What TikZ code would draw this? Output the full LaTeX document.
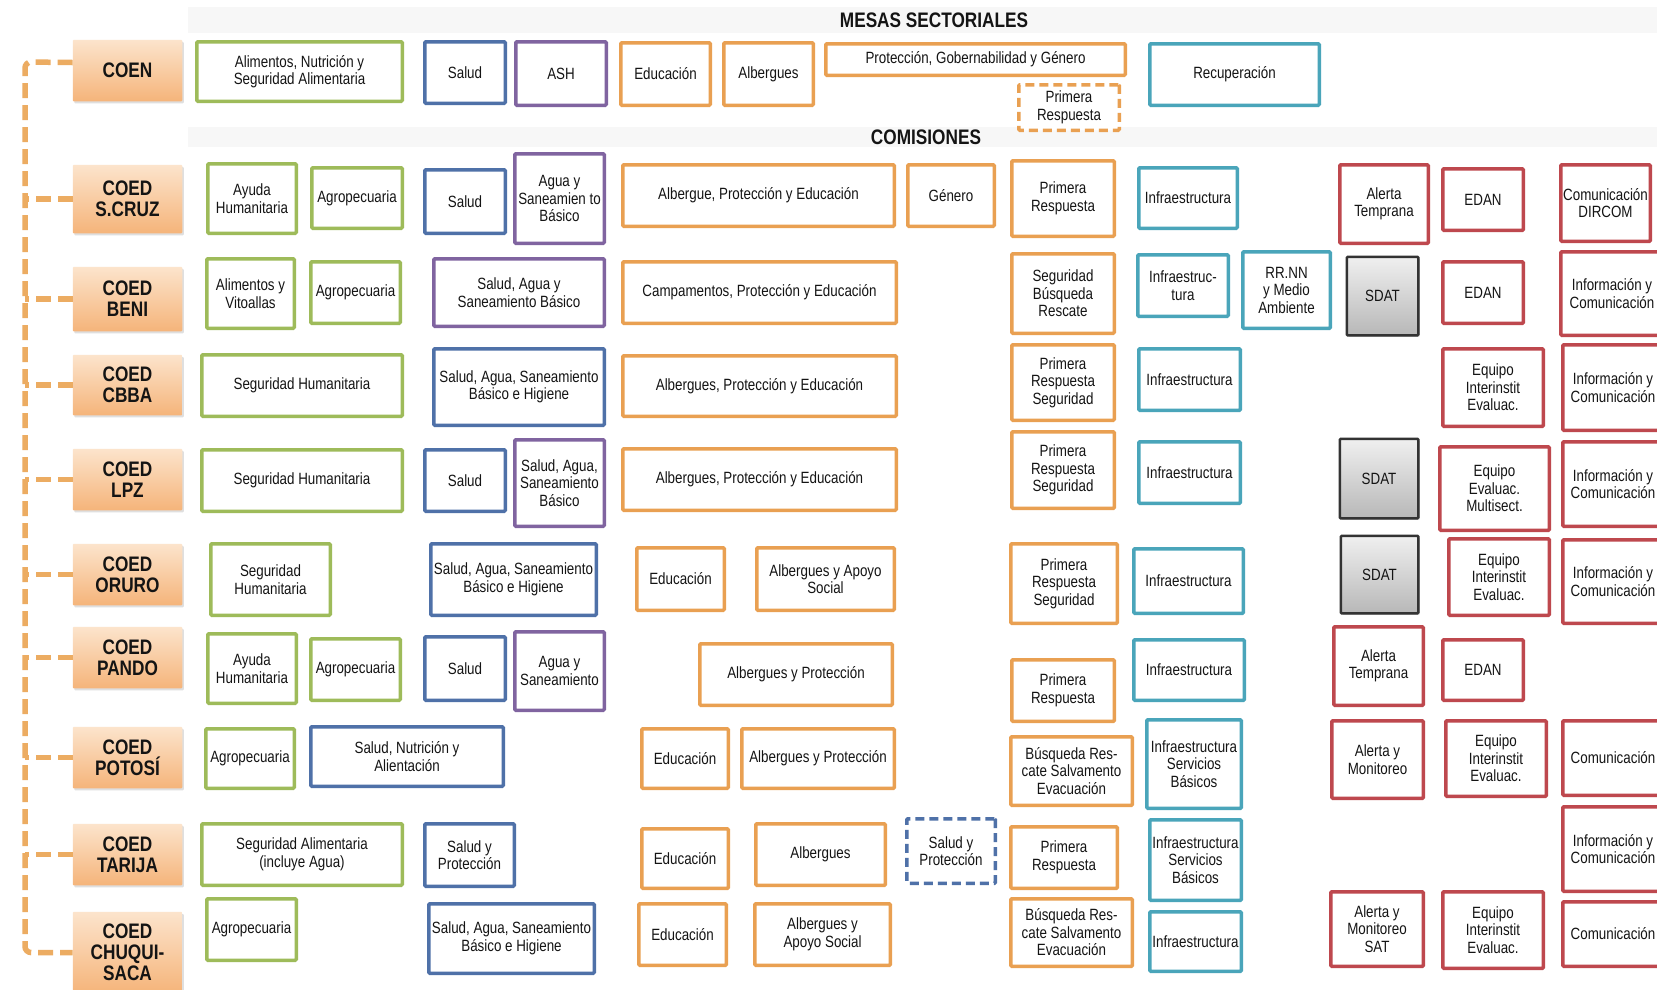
\documentclass[tikz,border=0pt]{standalone}
\usepackage{fontspec}
\setmainfont{Liberation Sans}[FakeStretch=0.82]
\usetikzlibrary{shadows}
\definecolor{cgreen}{RGB}{158,187,90}
\definecolor{cblue}{RGB}{79,113,168}
\definecolor{cpurple}{RGB}{128,100,160}
\definecolor{corange}{RGB}{233,160,82}
\definecolor{cteal}{RGB}{74,165,186}
\definecolor{cred}{RGB}{190,72,78}
\definecolor{cconn}{RGB}{236,172,98}
\definecolor{ctxt}{RGB}{20,20,20}
\tikzset{
  bx/.style={draw, line width=3.5pt, fill=white, align=center, inner sep=1pt, rounded corners=1pt,
    font=\fontsize{16.3}{17.5}\selectfont, text=ctxt},
  boxg/.style={bx, draw=cgreen},
  boxb/.style={bx, draw=cblue},
  boxp/.style={bx, draw=cpurple},
  boxo/.style={bx, draw=corange},
  boxt/.style={bx, draw=cteal},
  boxr/.style={bx, draw=cred},
  boxod/.style={bx, draw=corange, dash pattern=on 9pt off 5pt},
  boxbd/.style={bx, draw=cblue, dash pattern=on 9pt off 5pt},
  boxs/.style={bx, draw=black!80, line width=2.5pt, top color=black!6, bottom color=black!28,
    drop shadow={shadow xshift=1.5pt, shadow yshift=-1.5pt, opacity=0.35}},
  boxc/.style={align=center, inner sep=1pt, top color={rgb,255:red,252;green,228;blue,204},
    bottom color={rgb,255:red,245;green,180;blue,122}, rounded corners=1pt,
    font=\fontsize{21}{21}\selectfont\bfseries, text=ctxt,
    drop shadow={shadow xshift=1.5pt, shadow yshift=-2pt, opacity=0.25}},
  ttl/.style={font=\fontsize{21}{22}\selectfont\bfseries, text=ctxt, inner sep=0pt},
  conn/.style={draw=cconn, line width=5.5pt, dash pattern=on 15pt off 7pt, rounded corners=6pt}
}
\newcommand{\mybox}[7]{\node[#2, minimum width={(#5)-(#3)-3.5}, minimum height={(#6)-(#4)-3.5}] (#1) at ({((#3)+(#5))/2},{((#4)+(#6))/2}) {#7};}
\begin{document}
\begin{tikzpicture}[x=1pt,y=-1pt]
\useasboundingbox (0,0) rectangle (1657,989);
\clip (0,0) rectangle (1657,989);
\fill[white] (0,0) rectangle (1657,989);
\fill[black!3] (188,7) rectangle (1657,33);
\fill[black!3] (188,127) rectangle (1657,147);

\node[ttl] (tmesas) at (934,20) {MESAS SECTORIALES};
\node[ttl] (tcom) at (926,137) {COMISIONES};

% COEN
\mybox{coen}{boxc}{71}{38}{184}{103}{COEN}
\mybox{m1}{boxg}{195}{40}{404}{103}{Alimentos, Nutrición y\\Seguridad Alimentaria}
\mybox{m2}{boxb}{423}{40}{507}{105}{Salud}
\mybox{m3}{boxp}{514}{40}{608}{107}{ASH}
\mybox{m4}{boxo}{619}{41}{712}{107}{Educación}
\mybox{m5}{boxo}{722}{41}{815}{107}{Albergues}
\mybox{m6}{boxo}{824}{42}{1127}{77}{Protección, Gobernabilidad y Género}
\mybox{m7}{boxod}{1017}{83}{1121}{132}{Primera\\Respuesta}
\mybox{m8}{boxt}{1148}{42}{1321}{107}{Recuperación}

% S.CRUZ
\mybox{scz}{boxc}{71}{163}{184}{235}{COED\\S.CRUZ}
\mybox{s1}{boxg}{206}{162}{298}{235}{Ayuda\\Humanitaria}
\mybox{s2}{boxg}{310}{166}{404}{230}{Agropecuaria}
\mybox{s3}{boxb}{423}{168}{507}{235}{Salud}
\mybox{s4}{boxp}{513}{152}{606}{245}{Agua y\\Saneamien to\\Básico}
\mybox{s5}{boxo}{621}{163}{896}{228}{Albergue, Protección y Educación}
\mybox{s6}{boxo}{906}{163}{996}{228}{Género}
\mybox{s7}{boxo}{1010}{159}{1116}{238}{Primera\\Respuesta}
\mybox{s8}{boxt}{1137}{166}{1239}{230}{Infraestructura}
\mybox{s9}{boxr}{1338}{163}{1430}{245}{Alerta\\Temprana}
\mybox{s10}{boxr}{1441}{167}{1525}{232}{EDAN}
\mybox{s11}{boxr}{1559}{163}{1652}{243}{Comunicación\\DIRCOM}

% BENI
\mybox{ben}{boxc}{71}{265}{184}{333}{COED\\BENI}
\mybox{b1}{boxg}{205}{257}{296}{330}{Alimentos y\\Vitoallas}
\mybox{b2}{boxg}{309}{260}{402}{325}{Agropecuaria}
\mybox{b3}{boxp}{432}{257}{606}{328}{Salud, Agua y\\Saneamiento Básico}
\mybox{b4}{boxo}{621}{260}{898}{325}{Campamentos, Protección y Educación}
\mybox{b5}{boxo}{1010}{252}{1116}{335}{Seguridad\\Búsqueda\\Rescate}
\mybox{b6}{boxt}{1136}{253}{1230}{318}{Infraestruc-\\tura}
\mybox{b7}{boxt}{1241}{250}{1332}{330}{RR.NN\\y Medio\\Ambiente}
\mybox{b8}{boxs}{1345}{255}{1420}{337}{SDAT}
\mybox{b9}{boxr}{1441}{260}{1525}{325}{EDAN}
\mybox{b10}{boxr}{1559}{250}{1665}{337}{Información y\\Comunicación}

% CBBA
\mybox{cba}{boxc}{71}{353}{184}{417}{COED\\CBBA}
\mybox{c1}{boxg}{200}{353}{404}{418}{Seguridad Humanitaria}
\mybox{c2}{boxb}{432}{347}{606}{427}{Salud, Agua, Saneamiento\\Básico e Higiene}
\mybox{c3}{boxo}{621}{354}{898}{418}{Albergues, Protección y Educación}
\mybox{c4}{boxo}{1010}{343}{1116}{422}{Primera\\Respuesta\\Seguridad}
\mybox{c5}{boxt}{1137}{347}{1242}{412}{Infraestructura}
\mybox{c6}{boxr}{1441}{347}{1545}{428}{Equipo\\Interinstit\\Evaluac.}
\mybox{c7}{boxr}{1561}{343}{1665}{432}{Información y\\Comunicación}

% LPZ
\mybox{lpz}{boxc}{71}{447}{184}{512}{COED\\LPZ}
\mybox{l1}{boxg}{200}{448}{404}{513}{Seguridad Humanitaria}
\mybox{l2}{boxb}{423}{448}{507}{513}{Salud}
\mybox{l3}{boxp}{513}{438}{606}{528}{Salud, Agua,\\Saneamiento\\Básico}
\mybox{l4}{boxo}{621}{447}{898}{512}{Albergues, Protección y Educación}
\mybox{l5}{boxo}{1010}{430}{1116}{510}{Primera\\Respuesta\\Seguridad}
\mybox{l6}{boxt}{1137}{440}{1242}{505}{Infraestructura}
\mybox{l7}{boxs}{1338}{437}{1420}{520}{SDAT}
\mybox{l8}{boxr}{1438}{445}{1551}{532}{Equipo\\Evaluac.\\Multisect.}
\mybox{l9}{boxr}{1561}{440}{1665}{528}{Información y\\Comunicación}

% ORURO
\mybox{oru}{boxc}{71}{542}{184}{607}{COED\\ORURO}
\mybox{o1}{boxg}{209}{542}{332}{617}{Seguridad\\Humanitaria}
\mybox{o2}{boxb}{429}{542}{598}{617}{Salud, Agua, Saneamiento\\Básico e Higiene}
\mybox{o3}{boxo}{635}{546}{726}{612}{Educación}
\mybox{o4}{boxo}{755}{546}{896}{612}{Albergues y Apoyo\\Social}
\mybox{o5}{boxo}{1009}{542}{1119}{625}{Primera\\Respuesta\\Seguridad}
\mybox{o6}{boxt}{1132}{547}{1245}{615}{Infraestructura}
\mybox{o7}{boxs}{1339}{534}{1420}{615}{SDAT}
\mybox{o8}{boxr}{1447}{537}{1551}{617}{Equipo\\Interinstit\\Evaluac.}
\mybox{o9}{boxr}{1561}{538}{1665}{625}{Información y\\Comunicación}

% PANDO
\mybox{pan}{boxc}{71}{625}{184}{690}{COED\\PANDO}
\mybox{p1}{boxg}{206}{632}{298}{705}{Ayuda\\Humanitaria}
\mybox{p2}{boxg}{309}{637}{402}{702}{Agropecuaria}
\mybox{p3}{boxb}{423}{635}{507}{702}{Salud}
\mybox{p4}{boxp}{513}{630}{606}{712}{Agua y\\Saneamiento}
\mybox{p5}{boxo}{698}{642}{894}{707}{Albergues y Protección}
\mybox{p6}{boxo}{1010}{658}{1116}{723}{Primera\\Respuesta}
\mybox{p7}{boxt}{1132}{638}{1246}{702}{Infraestructura}
\mybox{p8}{boxr}{1332}{625}{1425}{707}{Alerta\\Temprana}
\mybox{p9}{boxr}{1441}{638}{1525}{702}{EDAN}

% POTOSI
\mybox{pot}{boxc}{71}{725}{184}{790}{COED\\POTOSÍ}
\mybox{t1}{boxg}{204}{727}{296}{790}{Agropecuaria}
\mybox{t2}{boxb}{309}{725}{505}{788}{Salud, Nutrición y\\Alientación}
\mybox{t3}{boxo}{640}{727}{730}{790}{Educación}
\mybox{t4}{boxo}{740}{727}{896}{790}{Albergues y Protección}
\mybox{t5}{boxo}{1009}{735}{1134}{807}{Búsqueda Res-\\cate Salvamento\\Evacuación}
\mybox{t6}{boxt}{1145}{718}{1243}{810}{Infraestructura\\Servicios\\Básicos}
\mybox{t7}{boxr}{1330}{719}{1425}{800}{Alerta y\\Monitoreo}
\mybox{t8}{boxr}{1444}{719}{1548}{798}{Equipo\\Interinstit\\Evaluac.}
\mybox{t9}{boxr}{1561}{719}{1665}{797}{Comunicación}

% TARIJA
\mybox{tar}{boxc}{71}{822}{184}{887}{COED\\TARIJA}
\mybox{j1}{boxg}{200}{822}{404}{887}{Seguridad Alimentaria\\(incluye Agua)}
\mybox{j2}{boxb}{423}{822}{516}{888}{Salud y\\Protección}
\mybox{j3}{boxo}{640}{827}{730}{890}{Educación}
\mybox{j4}{boxo}{754}{822}{887}{887}{Albergues}
\mybox{j5}{boxbd}{905}{817}{997}{885}{Salud y\\Protección}
\mybox{j6}{boxo}{1009}{825}{1119}{890}{Primera\\Respuesta}
\mybox{j7}{boxt}{1148}{818}{1243}{902}{Infraestructura\\Servicios\\Básicos}
\mybox{j8}{boxr}{1561}{805}{1665}{893}{Información y\\Comunicación}

% CHUQUISACA
\mybox{chu}{boxc}{71}{910}{184}{995}{COED\\CHUQUI-\\SACA}
\mybox{h1}{boxg}{205}{897}{298}{962}{Agropecuaria}
\mybox{h2}{boxb}{427}{902}{596}{975}{Salud, Agua, Saneamiento\\Básico e Higiene}
\mybox{h3}{boxo}{637}{902}{728}{967}{Educación}
\mybox{h4}{boxo}{753}{902}{892}{967}{Albergues y\\Apoyo Social}
\mybox{h5}{boxo}{1009}{897}{1134}{968}{Búsqueda Res-\\cate Salvamento\\Evacuación}
\mybox{h6}{boxt}{1148}{910}{1243}{973}{Infraestructura}
\mybox{h7}{boxr}{1329}{890}{1425}{968}{Alerta y\\Monitoreo\\SAT}
\mybox{h8}{boxr}{1441}{890}{1545}{970}{Equipo\\Interinstit\\Evaluac.}
\mybox{h9}{boxr}{1561}{900}{1665}{968}{Comunicación}

% connectors
\coordinate (trunk) at (25,62);
\draw[conn] ([yshift=8pt]coen.west) -- (trunk) -- (trunk |- chu.west) -- (chu.west);
\foreach \n in {scz,ben,cba,lpz,oru,pan,pot,tar}{
  \draw[conn] (\n.west) -- (\n.west -| trunk);
}
\end{tikzpicture}
\end{document}
